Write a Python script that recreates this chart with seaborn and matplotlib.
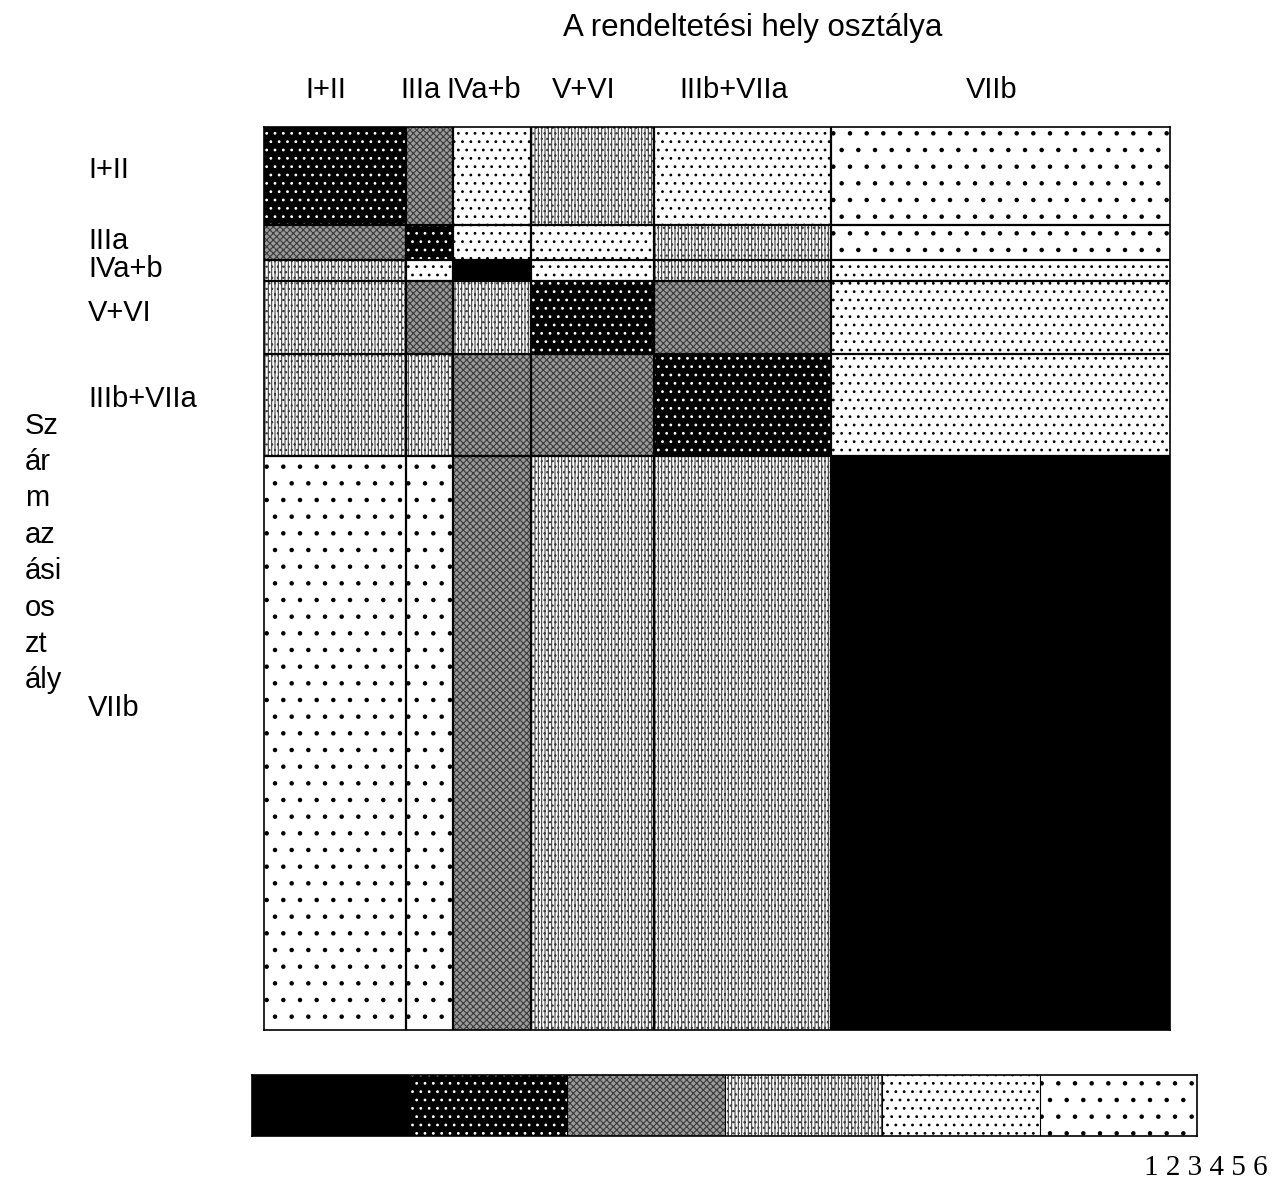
import numpy as np
import matplotlib
matplotlib.use('Agg')
import matplotlib.pyplot as plt
import matplotlib.transforms as mtransforms
import seaborn as sns

# ============================================================================
# DATA
# ============================================================================
classes = ['I+II', 'IIIa', 'IVa+b', 'V+VI', 'IIIb+VIIa', 'VIIb']
dest_share = [15.7, 5.2, 8.6, 13.6, 19.5, 37.4]   # column widths (%), destination class
orig_share = [10.9, 3.8, 2.3, 8.1, 11.3, 63.6]    # row heights (%), origin class

# shading category per cell: row = origin, col = destination (1 = darkest, 6 = lightest)
levels = [
    [2, 3, 5, 4, 5, 6],
    [3, 2, 5, 5, 4, 6],
    [4, 5, 1, 5, 4, 5],
    [4, 3, 4, 2, 3, 5],
    [4, 4, 3, 3, 2, 5],
    [6, 6, 3, 4, 4, 1],
]
legend_levels = [1, 2, 3, 4, 5, 6]
legend_labels = ['1', '2', '3', '4', '5', '6']

title = 'A rendeltetési hely osztálya'
ylabel = 'Sz\nár\nm\naz\nási\nos\nzt\nály'

# halftone-like look of each category
STYLE = {
    1: dict(face='black', hatch=None, ink='black'),
    2: dict(face='black', hatch='..', ink='white'),
    3: dict(face='#9a9a9a', hatch='xxxxx', ink='#3a3a3a'),
    4: dict(face='white', hatch='|||||...', ink='#404040'),
    5: dict(face='white', hatch='..', ink='black'),
    6: dict(face='white', hatch='.', ink='black'),
}

sns.set_style('white')
plt.rcParams['font.family'] = ['Liberation Sans', 'DejaVu Sans']
plt.rcParams['text.color'] = 'black'
plt.rcParams['hatch.linewidth'] = 0.8
FS = 21


def style_bars(bars, cats):
    for b, c in zip(bars, cats):
        st = STYLE[c]
        b.set_facecolor(st['face'])
        b.set_edgecolor(st['ink'])
        b.set_linewidth(0)
        if st['hatch']:
            b.set_hatch(st['hatch'])


fig = plt.figure(figsize=(12.76, 11.82), dpi=100)
ax = fig.add_axes([264 / 1276, 1 - 1030 / 1182, 906 / 1276, 903 / 1182])

col_left = np.concatenate([[0], np.cumsum(dest_share)[:-1]])
row_top = np.concatenate([[0], np.cumsum(orig_share)[:-1]])

for i, row in enumerate(levels):
    bars = ax.bar(col_left, [orig_share[i]] * len(dest_share), width=dest_share,
                  bottom=row_top[i], align='edge')
    style_bars(bars, row)

# cell borders
ax.vlines(np.cumsum(dest_share)[:-1], 0, sum(orig_share), color='black', lw=1.6)
ax.hlines(np.cumsum(orig_share)[:-1], 0, sum(dest_share), color='black', lw=1.6)

ax.set_xlim(0, sum(dest_share))
ax.set_ylim(sum(orig_share), 0)
ax.set_xticks([])
ax.set_yticks([])
for s in ax.spines.values():
    s.set_visible(True)
    s.set_color('black')
    s.set_linewidth(1.2)

# category labels
col_tr = mtransforms.blended_transform_factory(ax.transData, fig.transFigure)
for lab, x0, w in zip(classes, col_left, dest_share):
    ax.text(x0 + w / 2 - 1.0, 1 - 90 / 1182, lab, transform=col_tr,
            ha='center', va='center', fontsize=FS, clip_on=False)

row_tr = mtransforms.blended_transform_factory(fig.transFigure, ax.transData)
for lab, y0, h in zip(classes, row_top, orig_share):
    ax.text(88 / 1276, y0 + h * 0.44, lab, transform=row_tr,
            ha='left', va='center', fontsize=FS, clip_on=False)

fig.text(753 / 1276, 1 - 28 / 1182, title, ha='center', va='center', fontsize=22.5)
fig.text(25 / 1276, 1 - 553 / 1182, ylabel, ha='left', va='center', fontsize=FS,
         linespacing=1.38)

# legend strip
lax = fig.add_axes([252 / 1276, 1 - 1136 / 1182, 945 / 1276, 61 / 1182])
lbars = lax.bar(np.arange(len(legend_levels)), [1] * len(legend_levels), width=1.0,
                bottom=0, align='edge')
style_bars(lbars, legend_levels)
lax.vlines(np.arange(1, len(legend_levels)), 0, 1, color='black', lw=0.8)
lax.set_xlim(0, len(legend_levels))
lax.set_ylim(0, 1)
lax.set_xticks([])
lax.set_yticks([])
for s in lax.spines.values():
    s.set_visible(True)
    s.set_color('black')
    s.set_linewidth(1.2)

fig.text(1268 / 1276, 1 - 1168 / 1182, ' '.join(legend_labels), ha='right', va='center',
         fontsize=21, family=['Liberation Serif', 'DejaVu Serif'])

fig.savefig('out.png', dpi=100)
